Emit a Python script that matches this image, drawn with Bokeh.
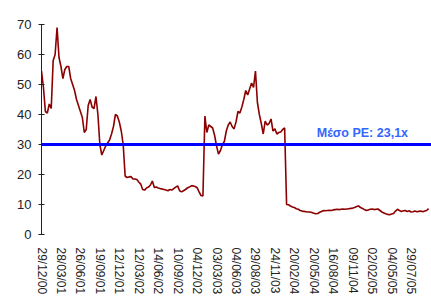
import math
from bokeh.plotting import figure
from bokeh.models import Range1d, FixedTicker, Span, Label, ColumnDataSource
from bokeh.embed import file_html
from bokeh.resources import INLINE

# P/E series, sampled every tenth of a date-label interval
pe = [
    54.5, 49.0, 41.0, 40.5, 43.5, 42.0, 58.0, 60.0, 69.0, 59.0,
    56.0, 52.0, 55.0, 56.0, 56.0, 52.0, 50.0, 48.0, 45.0, 43.0,
    41.0, 39.0, 34.0, 35.0, 43.0, 45.0, 42.5, 42.0, 46.0, 40.0,
    30.0, 26.5, 28.0, 29.5, 30.5, 31.5, 33.5, 36.0, 40.0, 39.5,
    37.5, 34.5, 30.0, 19.5, 19.0, 19.2, 19.3, 18.5, 18.5, 18.3,
    17.5, 16.8, 15.0, 14.8, 15.5, 15.8, 16.5, 17.8, 15.7, 15.8,
    15.5, 15.3, 15.2, 15.0, 14.8, 14.6, 15.0, 14.8, 15.3, 15.8,
    16.2, 14.6, 14.2, 14.6, 15.0, 15.5, 15.8, 16.2, 16.2, 16.0,
    15.6, 14.2, 13.0, 12.8, 39.5, 34.0, 36.5, 36.0, 35.5, 33.0,
    29.5, 26.8, 28.0, 30.0, 31.0, 34.5, 36.5, 37.5, 36.0, 35.2,
    37.5, 41.0, 40.5, 42.5, 45.0, 48.0, 46.5, 48.5, 50.5, 49.0,
    54.5, 44.0, 40.0, 37.0, 33.5, 37.8, 36.5, 37.0, 38.5, 34.5,
    35.2, 33.5, 34.0, 34.2, 35.0, 35.5, 10.0, 9.9, 9.5, 9.2,
    9.0, 8.6, 8.4, 8.0, 7.8, 7.7, 7.6, 7.5, 7.5, 7.3,
    7.1, 6.9, 7.0, 7.4, 7.7, 8.0, 7.9, 8.0, 8.1, 8.0,
    8.2, 8.3, 8.4, 8.3, 8.4, 8.5, 8.4, 8.5, 8.6, 8.7,
    8.8, 9.0, 9.3, 9.5, 9.0, 8.7, 8.3, 8.0, 8.2, 8.4,
    8.5, 8.3, 8.4, 8.5, 8.0, 7.5, 7.2, 6.9, 6.7, 6.6,
    6.8, 7.0, 7.8, 8.4, 8.0, 7.7, 7.9, 8.0, 7.7, 7.9,
    7.5, 7.6, 7.8, 7.6, 7.7, 7.8, 7.6, 7.8, 8.0, 8.6,
]
x_idx = list(range(len(pe)))

date_labels = [
    "29/12/00", "28/03/01", "26/06/01", "19/09/01", "12/12/01",
    "12/03/02", "14/06/02", "10/09/02", "04/12/02", "03/03/03",
    "04/06/03", "29/08/03", "24/11/03", "20/02/04", "20/05/04",
    "16/08/04", "09/11/04", "02/02/05", "04/05/05", "29/07/05",
]
samples_per_label = 10
tick_pos = [i * samples_per_label for i in range(len(date_labels))]

mean_pe_line = 30
mean_pe_text = "Μέσο PE: 23,1x"
y_ticks = [0, 10, 20, 30, 40, 50, 60, 70]

p = figure(width=431, height=297, output_backend="svg", toolbar_location=None,
           x_range=Range1d(0, 200.5), y_range=Range1d(0, 70),
           min_border_left=41, min_border_right=0, min_border_top=24,
           min_border_bottom=61)
p.outline_line_color = None
p.xgrid.visible = False
p.ygrid.visible = False
p.background_fill_color = "white"
p.border_fill_color = "white"

src = ColumnDataSource(dict(x=x_idx, y=pe))
p.line("x", "y", source=src, line_color="#8b0000", line_width=1.6)

p.add_layout(Span(location=mean_pe_line, dimension="width",
                  line_color="#0000ff", line_width=3))
p.add_layout(Label(x=141.5, y=mean_pe_line, y_offset=12, text=mean_pe_text,
                   text_font="'Liberation Sans Narrow', 'Liberation Sans', sans-serif",
                   text_font_style="bold",
                   text_font_size="12.5px", text_color="#3366ff",
                   text_baseline="alphabetic"))

# y axis
p.yaxis.ticker = FixedTicker(ticks=y_ticks)
p.yaxis.minor_tick_line_color = None
p.yaxis.major_tick_in = 3
p.yaxis.major_tick_out = 3
p.yaxis.axis_line_color = "#222222"
p.yaxis.major_tick_line_color = "#222222"
p.yaxis.major_label_text_font = "Liberation Sans"
p.yaxis.major_label_text_font_size = "13px"
p.yaxis.major_label_text_color = "#222222"
p.yaxis.major_label_standoff = 7

# x axis
p.xaxis.ticker = FixedTicker(ticks=tick_pos)
p.xaxis.major_label_overrides = {t: lab for t, lab in zip(tick_pos, date_labels)}
p.xaxis.major_label_orientation = -math.pi / 2
p.xaxis.axis_line_color = None
p.xaxis.major_tick_line_color = None
p.xaxis.minor_tick_line_color = None
p.xaxis.major_tick_out = 0
p.xaxis.major_label_standoff = 13
p.xaxis.major_label_text_font = "Liberation Sans"
p.xaxis.major_label_text_font_size = "12px"
p.xaxis.major_label_text_color = "#222222"

open("out.html", "w").write(file_html(p, INLINE))
